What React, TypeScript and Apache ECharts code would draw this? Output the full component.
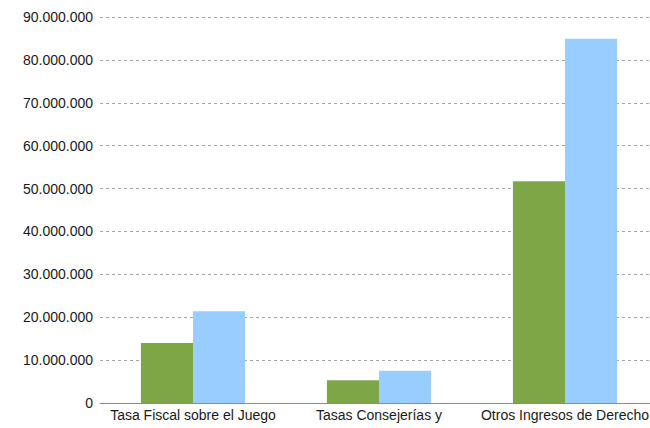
import React, { useEffect, useRef } from "react";
import * as echarts from "echarts";

const categories = ["Tasa Fiscal sobre el Juego", "Tasas Consejerías y", "Otros Ingresos de Derecho"];
const seriesGreen = [14000000, 5300000, 51700000];
const seriesBlue = [21400000, 7500000, 84900000];
const yTicks = { min: 0, max: 90000000, interval: 10000000 };

const fmt = (v: number) => String(Math.round(v)).replace(/\B(?=(\d{3})+(?!\d))/g, ".");

export default function App() {
  const ref = useRef<HTMLDivElement>(null);
  useEffect(() => {
    const chart = echarts.init(ref.current!, null, { renderer: "svg" });
    chart.setOption({
      animation: false,
      backgroundColor: "#ffffff",
      textStyle: { fontFamily: "Liberation Sans" },
      grid: { left: 100, right: 0, top: 17, bottom: 25, containLabel: false },
      xAxis: {
        type: "category",
        data: categories,
        axisLine: { show: true, lineStyle: { color: "#8c8c8c", width: 1 } },
        axisTick: { show: false },
        axisLabel: { color: "#1a1a1a", fontSize: 14, margin: 5, interval: 0 },
      },
      yAxis: {
        type: "value",
        min: yTicks.min,
        max: yTicks.max,
        interval: yTicks.interval,
        axisLine: { show: false },
        axisTick: { show: false },
        axisLabel: { color: "#1a1a1a", fontSize: 14, margin: 7, formatter: (v: number) => fmt(v) },
        splitLine: { lineStyle: { color: "#a6a6a6", type: [3, 3], width: 1 } },
      },
      series: [
        {
          type: "bar",
          data: seriesGreen,
          itemStyle: { color: "#7ea646" },
          barGap: "0%",
          barCategoryGap: "44%",
        },
        {
          type: "bar",
          data: seriesBlue,
          itemStyle: { color: "#99ccff" },
          barGap: "0%",
          barCategoryGap: "44%",
        },
      ],
    });
    return () => chart.dispose();
  }, []);
  return (
    <div
      style={{ position: "fixed", left: 0, top: 0, width: 650, height: 428, overflow: "hidden", background: "#fff" }}
    >
      <div ref={ref} style={{ width: 658, height: 428 }} />
    </div>
  );
}
